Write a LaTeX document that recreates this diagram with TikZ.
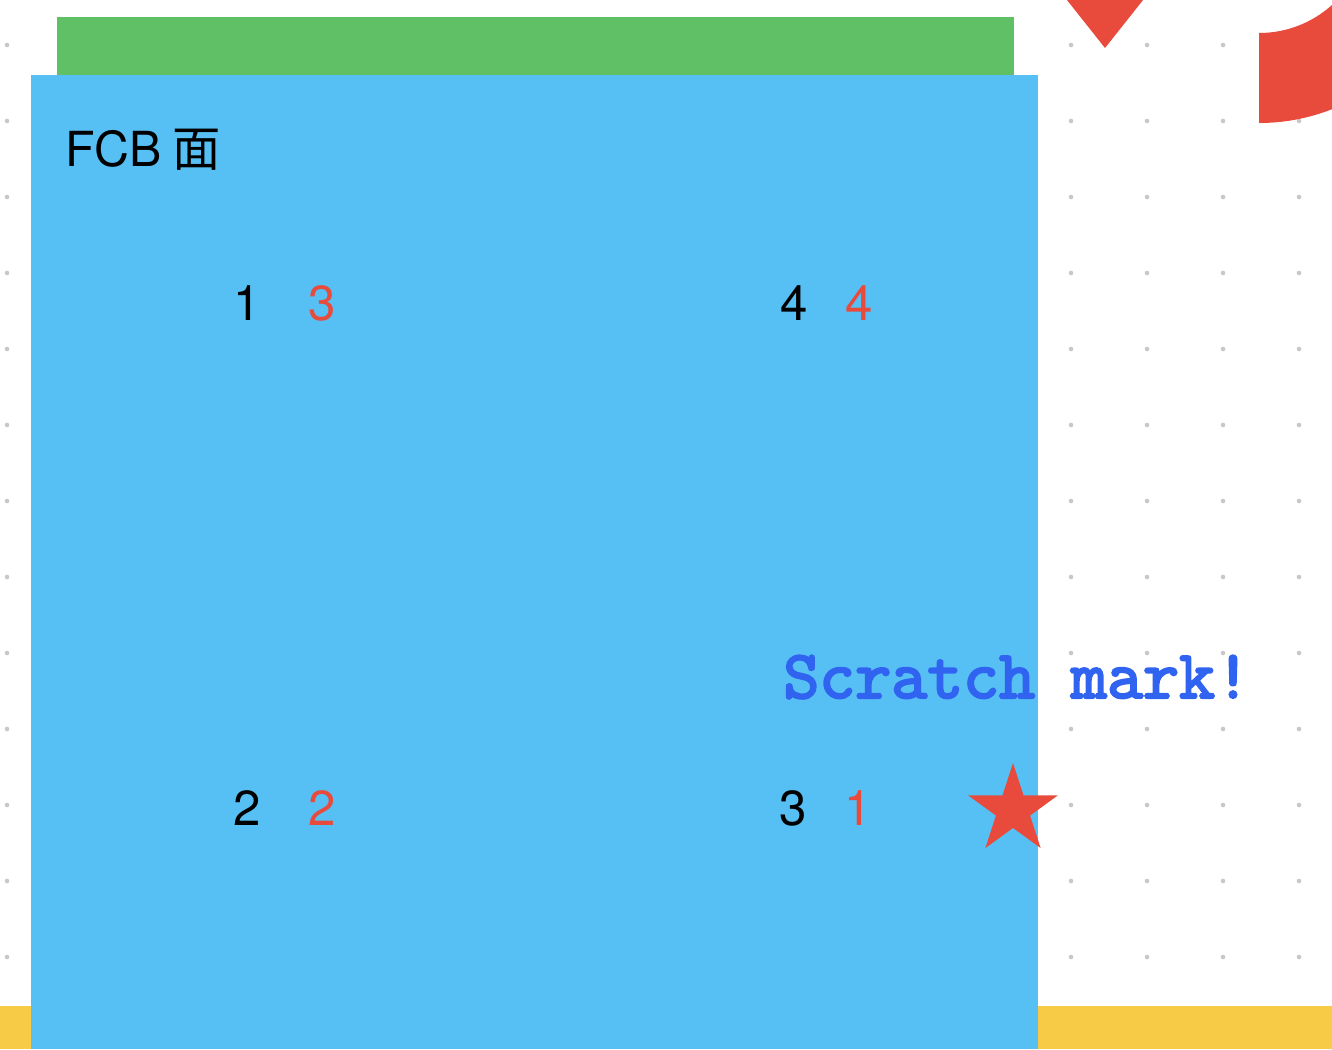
\documentclass[tikz,border=0pt]{standalone}
\usepackage{fontspec}
\setmainfont{TeX Gyre Heros}
\newfontfamily\cjkfont{Noto Sans CJK SC}
\newfontfamily\scratchfont[Extension=.otf, FakeBold=3]{lmmono10-regular}
\definecolor{FaceBlue}{RGB}{86,191,243}
\definecolor{TopGreen}{RGB}{96,192,102}
\definecolor{SunYellow}{RGB}{247,203,70}
\definecolor{MarkRed}{RGB}{232,74,60}
\definecolor{InkBlue}{RGB}{48,100,240}
\definecolor{DotGray}{RGB}{200,200,200}
\usepackage{tikz}
\usetikzlibrary{shapes.geometric}

\tikzset{
  numlabel/.style={anchor=base, inner sep=0pt, font=\fontsize{28}{32}\selectfont},
  rednum/.style={numlabel, text=MarkRed}
}

\begin{document}
\begin{tikzpicture}[x=0.02cm, y=-0.02cm]
          \useasboundingbox (0,0) rectangle (1332,1049);
          \begin{scope}
            \clip (0,0) rectangle (1332,1049);
            % dot grid
            \foreach \i in {0,...,17}
              \foreach \j in {0,...,13}
                \fill[DotGray] (7+76*\i,45+76*\j) circle (2.3);
            \fill[SunYellow] (0,1006) rectangle (1332,1049);
            \fill[TopGreen] (57,17) rectangle (1014,75);
            \fill[FaceBlue] (31,75) rectangle (1038,1049);
            % red marks top right
            \fill[MarkRed] (1040,-34) -- (1170,-34) -- (1105,48) -- cycle;
            \fill[MarkRed] (1259,33) arc[start angle=90, end angle=0, radius=109]
              -- (1458,-76) arc[start angle=0, end angle=90, radius=199] -- cycle;
          \end{scope}
          \node[anchor=base west, inner sep=0pt, font=\fontsize{27.5}{32}\selectfont] (face) at (65,166) {FCB\hspace{0.22cm}{\cjkfont 面}};
          \node[numlabel] (n1) at (247,320) {1};
          \node[rednum] (r1) at (322,320) {3};
          \node[numlabel] (n4) at (794,320) {4};
          \node[rednum] (r4) at (859,320) {4};
          \node[numlabel] (n2) at (247,825) {2};
          \node[rednum] (r2) at (322,825) {2};
          \node[numlabel] (n3) at (793,825) {3};
          \node[rednum] (r3) at (858,825) {1};
          \node[anchor=base west, inner sep=0pt, text=InkBlue, font=\scratchfont\fontsize{39}{41}\selectfont] (scratch) at (783,698) {Scratch mark!};
          \node[star, star points=5, star point ratio=2.618, fill=MarkRed, inner sep=0pt, minimum size=1.88cm] (mark) at (1013,810) {};
        \end{tikzpicture}
\end{document}
